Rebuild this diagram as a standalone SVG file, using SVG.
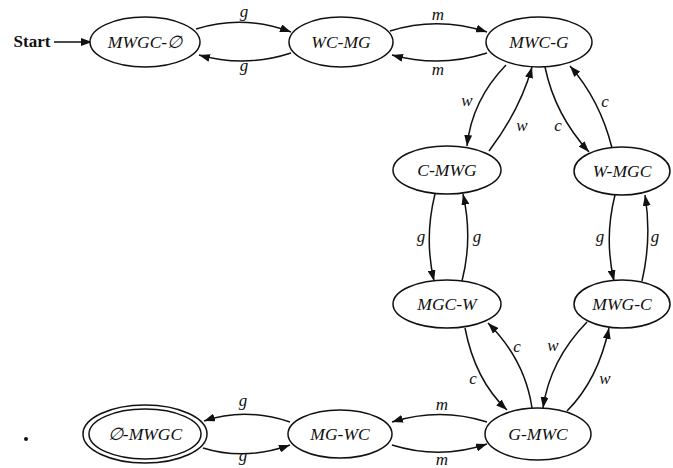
<svg xmlns="http://www.w3.org/2000/svg" width="673" height="468" viewBox="0 0 673 468">
<style>
.n{fill:#fff;stroke:#111;stroke-width:1.5}
.t{font-family:"Liberation Serif","DejaVu Serif",serif;font-style:italic;font-size:17.5px;fill:#111;text-anchor:middle}
.e{fill:none;stroke:#111;stroke-width:1.5;marker-end:url(#a)}
.l{font-family:"Liberation Serif","DejaVu Serif",serif;font-style:italic;font-size:17px;fill:#111;text-anchor:middle}
</style>
<defs>
<marker id="a" viewBox="0 0 11 8" refX="11" refY="4" markerWidth="11" markerHeight="8" markerUnits="userSpaceOnUse" orient="auto">
<path d="M0,0 L11,4 L0,8 Z" fill="#111"/>
</marker>
</defs>
<g id="edges">
<path class="e" d="M54,42 L92,42"/>
<path class="e" d="M196,29 Q243,14 291,32"/>
<path class="e" d="M291,53 Q245,68 199,55"/>
<path class="e" d="M390,31 Q438,16 487,32"/>
<path class="e" d="M487,53 Q440,68 392,55"/>
<path class="e" d="M506,65 Q472,100 467,146"/>
<path class="e" d="M489,151 Q520,110 532,67"/>
<path class="e" d="M545,67 Q555,115 589,152"/>
<path class="e" d="M612,148 Q600,100 570,66"/>
<path class="e" d="M435,194 Q424,238 434,281"/>
<path class="e" d="M462,281 Q473,238 463,194"/>
<path class="e" d="M615,195 Q604,238 614,281"/>
<path class="e" d="M642,281 Q652,238 645,195"/>
<path class="e" d="M465,328 Q475,380 507,410"/>
<path class="e" d="M532,408 Q525,360 488,323"/>
<path class="e" d="M587,322 Q550,360 543,408"/>
<path class="e" d="M567,411 Q598,380 609,328"/>
<path class="e" d="M487,422 Q440,407 392,422"/>
<path class="e" d="M392,445 Q440,460 487,444"/>
<path class="e" d="M290,422 Q245,407 204,421"/>
<path class="e" d="M203,448 Q245,461 290,445"/>
<text x="32" y="47" style="font-family:'Liberation Serif',serif;font-size:17px;font-weight:bold;fill:#111;text-anchor:middle">Start</text>
<text class="l" x="244" y="17">g</text>
<text class="l" x="244" y="71">g</text>
<text class="l" x="438" y="20">m</text>
<text class="l" x="438" y="75">m</text>
<text class="l" x="467" y="106">w</text>
<text class="l" x="522" y="131">w</text>
<text class="l" x="558" y="131">c</text>
<text class="l" x="605" y="107">c</text>
<text class="l" x="421" y="242">g</text>
<text class="l" x="477" y="242">g</text>
<text class="l" x="600" y="242">g</text>
<text class="l" x="655" y="242">g</text>
<text class="l" x="473" y="384">c</text>
<text class="l" x="517" y="352">c</text>
<text class="l" x="553" y="351">w</text>
<text class="l" x="605" y="384">w</text>
<text class="l" x="442" y="410">m</text>
<text class="l" x="442" y="465">m</text>
<text class="l" x="243" y="406">g</text>
<text class="l" x="243" y="461">g</text>
</g>
<g id="n1"><ellipse class="n" cx="145" cy="42" rx="55" ry="25"/><text class="t" x="145" y="48">MWGC-∅</text></g>
<g id="n2"><ellipse class="n" cx="341" cy="42" rx="52" ry="25"/><text class="t" x="341" y="48">WC-MG</text></g>
<g id="n3"><ellipse class="n" cx="539" cy="42" rx="53" ry="25"/><text class="t" x="539" y="48">MWC-G</text></g>
<g id="n4"><ellipse class="n" cx="447" cy="170" rx="54" ry="24"/><text class="t" x="447" y="176">C-MWG</text></g>
<g id="n5"><ellipse class="n" cx="622" cy="171" rx="48" ry="24"/><text class="t" x="622" y="177">W-MGC</text></g>
<g id="n6"><ellipse class="n" cx="447" cy="304" rx="54" ry="24"/><text class="t" x="447" y="310">MGC-W</text></g>
<g id="n7"><ellipse class="n" cx="622" cy="304" rx="48" ry="24"/><text class="t" x="622" y="310">MWG-C</text></g>
<g id="n8"><ellipse class="n" cx="538" cy="434" rx="53" ry="26"/><text class="t" x="538" y="440">G-MWC</text></g>
<g id="n9"><ellipse class="n" cx="340" cy="434" rx="52" ry="24"/><text class="t" x="340" y="440">MG-WC</text></g>
<g id="n10"><ellipse class="n" cx="145" cy="434" rx="62" ry="29"/><ellipse class="n" cx="145" cy="434" rx="56" ry="25"/><text class="t" x="145" y="440">∅-MWGC</text></g>
<circle cx="26" cy="439" r="2" fill="#111"/>
</svg>
